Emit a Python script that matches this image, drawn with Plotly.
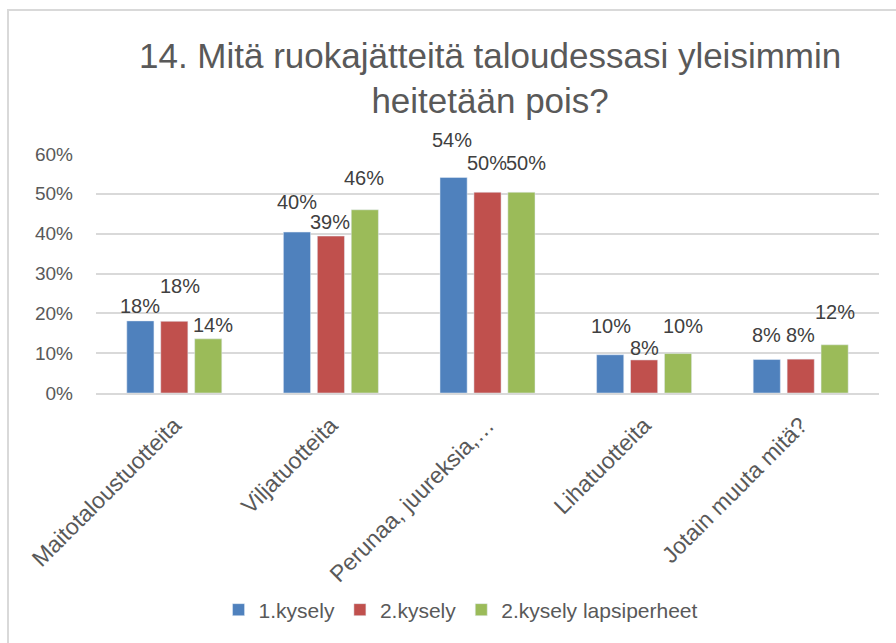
import plotly.graph_objects as go

# categories and series (shares of respondents)
categories = ["Maitotaloustuotteita", "Viljatuotteita", "Perunaa, juureksia,…",
              "Lihatuotteita", "Jotain muuta mitä?"]
kysely1 = [0.181, 0.404, 0.541, 0.096, 0.084]
kysely2 = [0.180, 0.394, 0.504, 0.083, 0.085]
lapsiperheet = [0.136, 0.460, 0.504, 0.099, 0.121]
series_names = ["1.kysely", "2.kysely", "2.kysely lapsiperheet"]
y_ticks = [0, 0.1, 0.2, 0.3, 0.4, 0.5, 0.6]

colors = ["#4F81BD", "#C0504D", "#9BBB59"]
font_family = "Liberation Sans, Arial"
gray = "#595959"

# Excel staggers overlapping data labels; lift (px above bar top) per series/category
label_lift = [
    [15, 30, 38, 29, 25],
    [35, 14, 29, 12, 24],
    [14, 32, 29, 28, 33],
]
label_nudge = [
    [0, 0, -2, 1, 0],
    [6, -1, -1, 0, 0],
    [5, -1, 4, 5, 0],
]
slot = 34  # px between bar centres inside a group

all_series = [kysely1, kysely2, lapsiperheet]

fig = go.Figure()
for name, values, color in zip(series_names, all_series, colors):
    fig.add_trace(go.Bar(
        x=categories,
        y=values,
        name=name,
        marker_color=color,
        cliponaxis=False,
    ))

# data labels as annotations so they can be staggered like the original
for i, values in enumerate(all_series):
    for j, (cat, v) in enumerate(zip(categories, values)):
        fig.add_annotation(
            x=cat, y=v, xref="x", yref="y",
            text=f"{v:.0%}",
            showarrow=False,
            xshift=(i - 1) * slot + label_nudge[i][j],
            yshift=label_lift[i][j],
            xanchor="center", yanchor="middle",
            font=dict(size=20, color="#404040", family=font_family),
        )

fig.update_layout(
    width=896,
    height=643,
    plot_bgcolor="white",
    paper_bgcolor="white",
    margin=dict(l=96, r=17, t=154, b=250, autoexpand=False),
    barmode="group",
    bargap=0.35,
    bargroupgap=0.2,
    title=dict(
        text="14. Mitä ruokajätteitä taloudessasi yleisimmin<br>heitetään pois?",
        x=0.547, xanchor="center",
        y=0.895, yanchor="middle",
        font=dict(size=35, color=gray, family=font_family),
    ),
    legend=dict(
        orientation="h",
        x=0.514, xanchor="center", xref="container",
        y=(643 - 610) / 643, yanchor="middle", yref="container",
        font=dict(size=21, color=gray, family=font_family),
        itemwidth=30,
        traceorder="normal",
    ),
    font=dict(family=font_family, color=gray),
)

fig.update_yaxes(
    range=[0, 0.6],
    tickvals=y_ticks,
    tickformat=".0%",
    showgrid=True,
    gridcolor="#D9D9D9",
    gridwidth=1.5,
    zeroline=False,
    tickfont=dict(size=19, color=gray),
    ticks="",
    ticklabelstandoff=22,
    automargin=False,
)
fig.update_xaxes(
    tickangle=-45,
    tickfont=dict(size=23, color=gray),
    showline=True,
    linecolor="#D9D9D9",
    linewidth=1.5,
    ticklabelstandoff=8,
    automargin=False,
)

# chart frame (Excel chart border)
fig.add_shape(
    type="rect", xref="paper", yref="paper",
    x0=(8 - 96) / 783, x1=1.2,
    y0=-1.2, y1=1 + (154 - 10) / 239,
    line=dict(color="#D9D9D9", width=2),
    fillcolor="rgba(0,0,0,0)",
    layer="below",
)

# drop the default 8px page margin so the figure sits at the window corner
fig.write_html(
    "out.html",
    config={"displayModeBar": False},
    post_script="document.body.style.margin='0';",
)
